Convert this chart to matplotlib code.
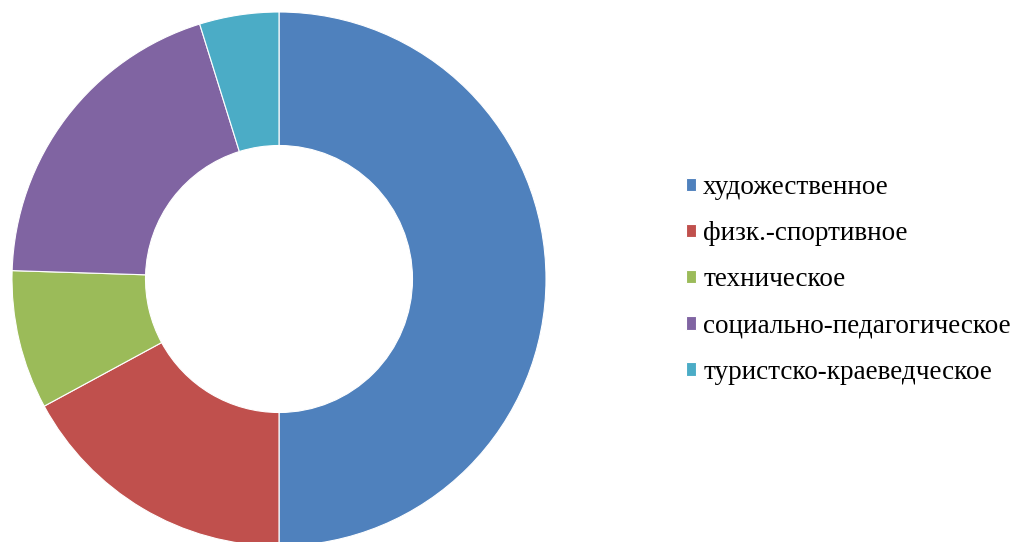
import matplotlib.pyplot as plt

# shares (percent)
labels = ['художественное', 'физк.-спортивное', 'техническое',
          'социально-педагогическое', 'туристско-краеведческое']
values = [50.0, 17.1, 8.4, 19.7, 4.8]
colors = ['#4F81BD', '#C0504D', '#9BBB59', '#8064A2', '#4BACC6']

plt.rcParams['font.family'] = ['Liberation Serif', 'DejaVu Serif']

fig = plt.figure(figsize=(10.16, 5.42), dpi=100)
# ring centre ~ (279, 279) px, outer radius ~267 px
ax = fig.add_axes([12 / 1016, (542 - 279 - 267) / 542, 534 / 1016, 534 / 542])
wedges, _ = ax.pie(values, colors=colors, startangle=90, counterclock=False,
                   radius=1.0, wedgeprops=dict(width=0.5, edgecolor='white', linewidth=0.8))
ax.set_xlim(-1, 1)
ax.set_ylim(-1, 1)
ax.set_aspect('equal')
ax.axis('off')

fig.legend(wedges, labels, loc='center left', bbox_to_anchor=(686 / 1016, 1 - 280 / 542),
           frameon=False, fontsize=19.5, handlelength=0.38, handleheight=0.38,
           handletextpad=0.25, labelspacing=0.78, borderaxespad=0, borderpad=0)

fig.savefig('out.png', dpi=100)
